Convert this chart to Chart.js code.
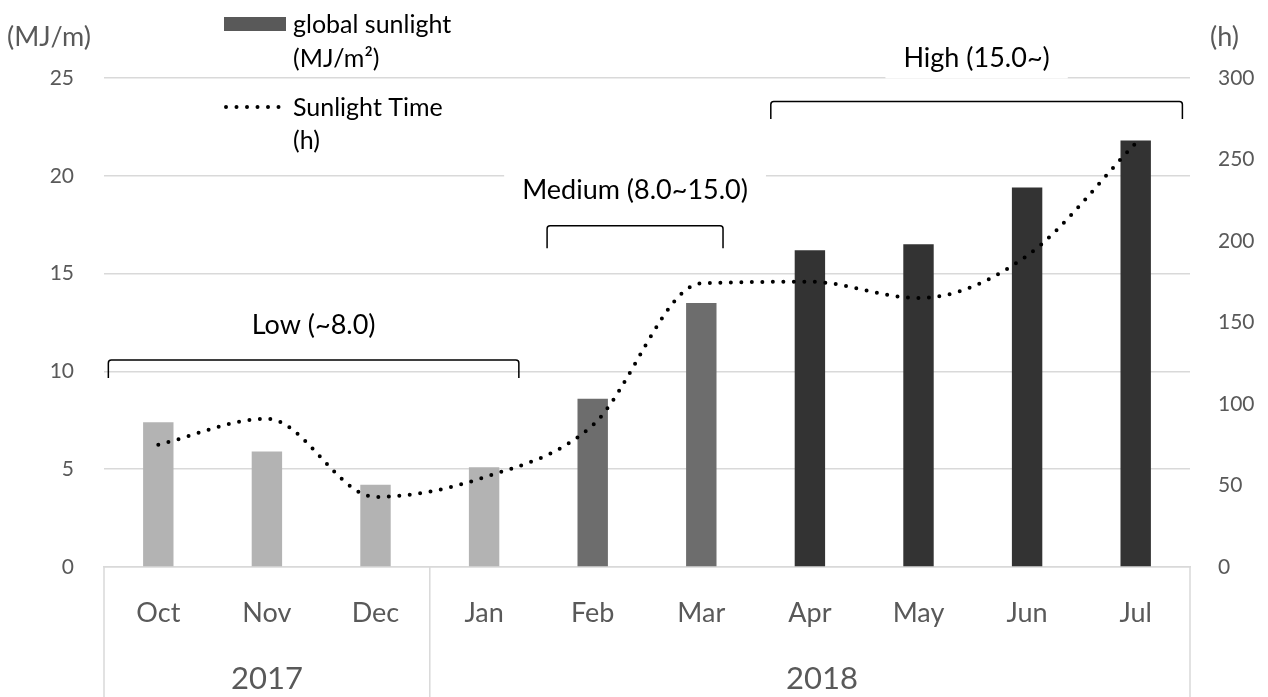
<!DOCTYPE html>
<html>
<head>
<meta charset="utf-8">
<script src="https://cdn.jsdelivr.net/npm/chart.js@4"></script>
<style>
  body { margin: 0; background: #fff; }
  #wrap { width: 1268px; height: 697px; }
</style>
</head>
<body>
<div id="wrap"><canvas id="sunChart"></canvas></div>
<script>
// data
const months = ["Oct", "Nov", "Dec", "Jan", "Feb", "Mar", "Apr", "May", "Jun", "Jul"];
const years = ["2017", "2018"];
const yearStart = [0, 3]; // index of first month in each year
const globalSunlight = [7.4, 5.9, 4.2, 5.1, 8.6, 13.5, 16.2, 16.5, 19.4, 21.8]; // MJ/m2
const sunlightTime = [75, 91, 43, 55, 87, 174, 175, 165, 191, 260]; // h
const levels = ["low", "low", "low", "low", "mid", "mid", "high", "high", "high", "high"];
const leftTicks = [0, 5, 10, 15, 20, 25];
const rightTicks = [0, 50, 100, 150, 200, 250, 300];

const levelColors = { low: "#b3b3b3", mid: "#6d6d6d", high: "#333333" };
const FONT = "Lato, 'Open Sans', sans-serif";

// the three brackets drawn over the bars (x in category index, y in MJ/m2)
const brackets = [
  { text: "Low (~8.0)", from: -0.46, to: 3.32, top: 10.58, foot: 9.66, labelY: 12.37 },
  { text: "Medium (8.0~15.0)", from: 3.58, to: 5.2, top: 17.45, foot: 16.3, labelY: 19.27, box: true },
  { text: "High (15.0~)", from: 5.64, to: 9.43, top: 23.8, foot: 22.9, labelY: 26.0, box: true },
];

const overlay = {
  id: "overlay",
  afterDraw(chart) {
    const ctx = chart.ctx;
    const x = chart.scales.x;
    const y = chart.scales.y;
    const area = chart.chartArea;
    const w = x.getPixelForValue(1) - x.getPixelForValue(0);
    const xAt = (i) => x.getPixelForValue(0) + i * w;

    ctx.save();

    // multi-level category axis: separators and years
    ctx.strokeStyle = "#d9d9d9";
    ctx.lineWidth = 1.5;
    const seps = yearStart.map((s) => xAt(s - 0.5)).concat([area.right]);
    seps.forEach((sx) => {
      ctx.beginPath();
      ctx.moveTo(sx, area.bottom);
      ctx.lineTo(sx, chart.height);
      ctx.stroke();
    });
    ctx.fillStyle = "#595959";
    ctx.font = "31px " + FONT;
    ctx.textAlign = "center";
    ctx.textBaseline = "middle";
    years.forEach((yr, k) => {
      const a = yearStart[k];
      const b = k + 1 < yearStart.length ? yearStart[k + 1] - 1 : months.length - 1;
      ctx.fillText(yr, (xAt(a) + xAt(b)) / 2 + (k === 1 ? 12 : 0), 679);
    });

    // brackets with labels
    brackets.forEach((br) => {
      const x1 = xAt(br.from), x2 = xAt(br.to);
      const yt = y.getPixelForValue(br.top), yf = y.getPixelForValue(br.foot);
      ctx.font = "27px " + FONT;
      const ly = y.getPixelForValue(br.labelY);
      const cx = (x1 + x2) / 2;
      if (br.box) {
        const tw = ctx.measureText(br.text).width;
        ctx.fillStyle = "#fff";
        ctx.fillRect(cx - tw / 2 - 18, ly - 20, tw + 36, 40);
      }
      ctx.fillStyle = "#000";
      ctx.fillText(br.text, cx, ly);
      ctx.strokeStyle = "#000";
      ctx.lineWidth = 1.5;
      ctx.beginPath();
      ctx.moveTo(x1, yf);
      ctx.lineTo(x1, yt + 3);
      ctx.quadraticCurveTo(x1, yt, x1 + 3, yt);
      ctx.lineTo(x2 - 3, yt);
      ctx.quadraticCurveTo(x2, yt, x2, yt + 3);
      ctx.lineTo(x2, yf);
      ctx.stroke();
    });

    // axis unit titles
    ctx.fillStyle = "#595959";
    ctx.font = "27px " + FONT;
    ctx.textAlign = "left";
    ctx.fillText("(MJ/m)", 7, 37);
    ctx.fillText("(h)", 1210, 37);

    // legend
    ctx.fillStyle = "#595959";
    ctx.fillRect(224, 17, 62, 14);
    ctx.fillStyle = "#000";
    ctx.font = "25px " + FONT;
    ctx.fillText("global sunlight", 293, 25);
    ctx.fillText("(MJ/m\u00b2)", 293, 59);
    ctx.fillText("Sunlight Time", 293, 108);
    ctx.fillText("(h)", 293, 141);
    ctx.strokeStyle = "#000";
    ctx.lineWidth = 4;
    ctx.lineCap = "round";
    ctx.setLineDash([0, 10.5]);
    ctx.beginPath();
    ctx.moveTo(226, 107);
    ctx.lineTo(282, 107);
    ctx.stroke();

    ctx.restore();
  },
};

new Chart(document.getElementById("sunChart"), {
  data: {
    labels: months,
    datasets: [
      {
        type: "line",
        label: "Sunlight Time (h)",
        data: sunlightTime,
        yAxisID: "y2",
        borderColor: "#000",
        borderWidth: 4,
        borderDash: [0, 10.5],
        borderCapStyle: "round",
        cubicInterpolationMode: "monotone",
        pointRadius: 0,
        fill: false,
        order: 0,
      },
      {
        type: "bar",
        label: "global sunlight (MJ/m²)",
        data: globalSunlight,
        yAxisID: "y",
        backgroundColor: levels.map((l) => levelColors[l]),
        barPercentage: 0.28,
        categoryPercentage: 1,
        order: 1,
      },
    ],
  },
  options: {
    responsive: true,
    maintainAspectRatio: false,
    animation: false,
    layout: { padding: { top: 78, left: 0, right: 0, bottom: 0 } },
    plugins: { legend: { display: false }, tooltip: { enabled: false } },
    scales: {
      x: {
        grid: { display: false },
        border: { color: "#d9d9d9", width: 1.5 },
        ticks: { color: "#595959", font: { family: FONT, size: 27 }, padding: 22, maxRotation: 0 },
        afterFit: (s) => { s.height = 130; },
      },
      y: {
        position: "left",
        min: leftTicks[0],
        max: leftTicks[leftTicks.length - 1],
        afterBuildTicks: (s) => { s.ticks = leftTicks.map((v) => ({ value: v })); },
        grid: { color: "#d9d9d9", lineWidth: 1.5, drawTicks: false },
        border: { display: false },
        ticks: { color: "#595959", font: { family: FONT, size: 21 }, padding: 30 },
        afterFit: (s) => { s.width = 104; },
      },
      y2: {
        position: "right",
        min: rightTicks[0],
        max: rightTicks[rightTicks.length - 1],
        afterBuildTicks: (s) => { s.ticks = rightTicks.map((v) => ({ value: v })); },
        grid: { display: false, drawTicks: false },
        border: { display: false },
        ticks: { color: "#595959", font: { family: FONT, size: 21 }, padding: 28 },
        afterFit: (s) => { s.width = 78; },
      },
    },
  },
  plugins: [overlay],
});
</script>
</body>
</html>
